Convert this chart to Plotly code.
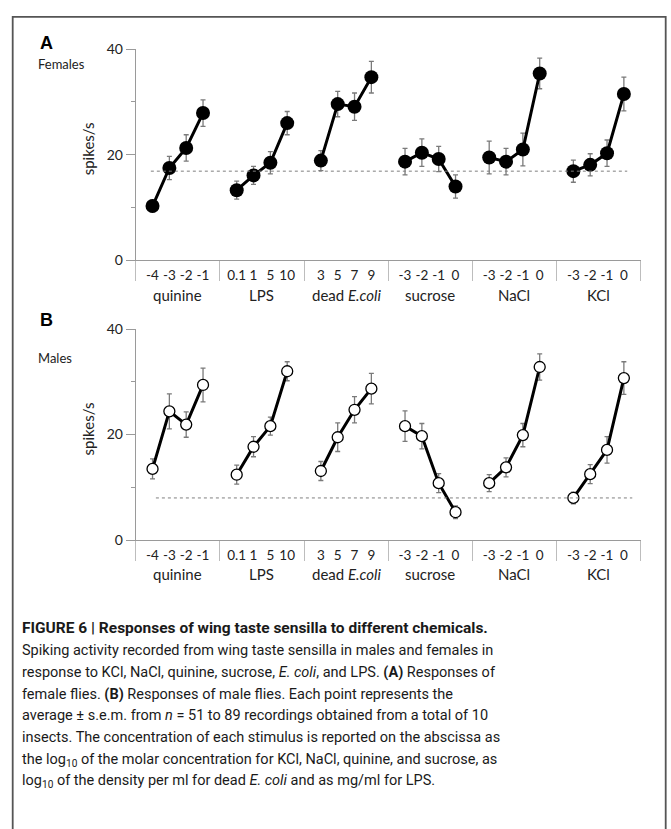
import plotly.graph_objects as go

# ---------------- data ----------------
groups = ["quinine", "LPS", "dead <i>E.coli</i>", "sucrose", "NaCl", "KCl"]
conc_labels = [
    ["-4", "-3", "-2", "-1"],
    ["0.1", "1", "5", "10"],
    ["3", "5", "7", "9"],
    ["-3", "-2", "-1", "0"],
    ["-3", "-2", "-1", "0"],
    ["-3", "-2", "-1", "0"],
]
female_mean = [
    [10.3, 17.5, 21.3, 27.9],
    [13.3, 16.1, 18.5, 26.0],
    [18.9, 29.6, 29.1, 34.7],
    [18.7, 20.4, 19.2, 14.0],
    [19.5, 18.7, 21.0, 35.4],
    [16.9, 18.1, 20.3, 31.5],
]
female_sem = [
    [1.1, 2.2, 2.5, 2.5],
    [1.7, 1.7, 2.1, 2.2],
    [1.9, 2.4, 2.6, 3.0],
    [2.5, 2.6, 2.4, 2.2],
    [3.1, 2.5, 3.1, 2.9],
    [2.1, 2.1, 2.5, 3.2],
]
male_mean = [
    [13.5, 24.4, 21.9, 29.4],
    [12.4, 17.7, 21.6, 32.0],
    [13.1, 19.5, 24.7, 28.7],
    [21.6, 19.7, 10.8, 5.3],
    [10.8, 13.8, 19.9, 32.8],
    [8.0, 12.5, 17.1, 30.7],
]
male_sem = [
    [1.9, 3.3, 2.4, 3.2],
    [1.8, 1.9, 1.7, 1.8],
    [1.8, 2.7, 2.5, 2.9],
    [2.9, 2.4, 1.8, 1.2],
    [1.6, 1.8, 2.2, 2.5],
    [1.1, 1.8, 2.5, 3.1],
]
female_baseline = 16.9
male_baseline = 8.0
female_baseline_x = [0.9, 29.2]
male_baseline_x = [1.2, 29.5]

caption_title = "<b>FIGURE 6 | Responses of wing taste sensilla to different chemicals.</b>"
caption_lines = [
    "Spiking activity recorded from wing taste sensilla in males and females in",
    "response to KCl, NaCl, quinine, sucrose, <i>E. coli</i>, and LPS. <b>(A)</b> Responses of",
    "female flies. <b>(B)</b> Responses of male flies. Each point represents the",
    "average ± s.e.m. from <i>n</i> = 51 to 89 recordings obtained from a total of 10",
    "insects. The concentration of each stimulus is reported on the abscissa as",
    "the log<sub>10</sub> of the molar concentration for KCl, NaCl, quinine, and sucrose, as",
    "log<sub>10</sub> of the density per ml for dead <i>E. coli</i> and as mg/ml for LPS.",
]

# ---------------- geometry helpers ----------------
W, H = 671, 829
def fx(p):
    return p / W
def fy(p):
    return 1 - p / H

SLOTS = 5  # each group spans 5 slots, points at slots 1..4
xpos = [[SLOTS * g + j + 1 for j in range(4)] for g in range(len(groups))]
flat_x = [x for grp in xpos for x in grp]
flat_lab = [l for grp in conc_labels for l in grp]
sep_vals = [SLOTS * g for g in range(len(groups) + 1)]

CHART_FONT = "Lato, Carlito, Calibri, sans-serif"
CAP_FONT = "Roboto, Arial, sans-serif"
AXIS_COL = "#9a9a9a"
SEP_COL = "#bdbdbd"
ERR_COL = "#7a7a7a"

fig = go.Figure()

def add_panel(means, sems, xa, ya, xa_lab, filled, baseline, bx):
    fig.add_trace(go.Scatter(
        x=bx, y=[baseline, baseline], mode="lines",
        line=dict(color="#7f7f7f", width=1, dash="dot"),
        xaxis=xa_lab, yaxis=ya, hoverinfo="skip", showlegend=False))
    for g in range(len(groups)):
        fig.add_trace(go.Scatter(
            x=xpos[g], y=means[g], mode="lines+markers",
            line=dict(color="black", width=3),
            marker=dict(
                size=14 if filled else 11,
                color="black" if filled else "white",
                line=dict(color="black", width=0 if filled else 1.3),
                symbol="circle"),
            error_y=dict(type="data", array=sems[g], visible=True,
                         color=ERR_COL, thickness=1.3, width=2.5),
            xaxis=xa, yaxis=ya, showlegend=False))

add_panel(female_mean, female_sem, "x", "y", "x3", True, female_baseline, female_baseline_x)
add_panel(male_mean, male_sem, "x2", "y2", "x4", False, male_baseline, male_baseline_x)

x_dom = [fx(135.7), fx(640.7)]
yA_dom = [fy(256.7), fy(41)]
yB_dom = [fy(542.3), fy(326.7)]

def sep_axis(anchor):
    return dict(domain=x_dom, range=[0, SLOTS * len(groups)], anchor=anchor,
                showline=True, linecolor=AXIS_COL, linewidth=1,
                tickmode="array", tickvals=sep_vals, showticklabels=False,
                ticks="outside", ticklen=20, tickcolor=SEP_COL, tickwidth=1,
                showgrid=False, zeroline=False, fixedrange=True)

def lab_axis(overlay, anchor):
    return dict(domain=x_dom, range=[0, SLOTS * len(groups)], anchor=anchor,
                overlaying=overlay, side="bottom",
                showline=False, ticks="", tickmode="array",
                tickvals=flat_x, ticktext=flat_lab,
                tickfont=dict(family=CHART_FONT, size=13.5, color="#222"),
                ticklabelstandoff=5,
                showgrid=False, zeroline=False, fixedrange=True)

def y_axis(dom, anchor):
    return dict(domain=dom, range=[0, 40], anchor=anchor,
                showline=True, linecolor=AXIS_COL, linewidth=1,
                tickmode="array", tickvals=[0, 20, 40],
                ticks="outside", ticklen=9, tickcolor=AXIS_COL,
                minor=dict(tickvals=[10, 30], ticks="outside", ticklen=4,
                           tickcolor=AXIS_COL),
                tickfont=dict(family=CHART_FONT, size=14, color="#222"),
                showgrid=False, zeroline=False, fixedrange=True)

annotations = []
for (ybase, xa) in [(256.7, "x"), (542.3, "x2")]:
    for g, name in enumerate(groups):
        annotations.append(dict(
            x=SLOTS * g + 2.5, xref=xa, y=fy(ybase + 35), yref="paper",
            text=name, showarrow=False, xanchor="center", yanchor="middle",
            font=dict(family=CHART_FONT, size=15, color="#222")))

annotations += [
    dict(x=fx(38), y=fy(35), xref="paper", yref="paper", text="<b>A</b>",
         showarrow=False, xanchor="left", yanchor="middle",
         font=dict(family="Liberation Sans, Arial, sans-serif", size=18, color="black")),
    dict(x=fx(35.5), y=fy(56), xref="paper", yref="paper", text="Females",
         showarrow=False, xanchor="left", yanchor="middle",
         font=dict(family=CHART_FONT, size=13, color="#222")),
    dict(x=fx(38), y=fy(318), xref="paper", yref="paper", text="<b>B</b>",
         showarrow=False, xanchor="left", yanchor="middle",
         font=dict(family="Liberation Sans, Arial, sans-serif", size=18, color="black")),
    dict(x=fx(35.5), y=fy(356.7), xref="paper", yref="paper", text="Males",
         showarrow=False, xanchor="left", yanchor="middle",
         font=dict(family=CHART_FONT, size=13, color="#222")),
    dict(x=fx(87.7), y=fy(142.5), xref="paper", yref="paper", text="spikes/s",
         textangle=-90, showarrow=False, xanchor="center", yanchor="middle",
         font=dict(family=CHART_FONT, size=15, color="#222")),
    dict(x=fx(87.7), y=fy(428.5), xref="paper", yref="paper", text="spikes/s",
         textangle=-90, showarrow=False, xanchor="center", yanchor="middle",
         font=dict(family=CHART_FONT, size=15, color="#222")),
]

cap_y = [631.7, 655.0, 677.3, 700.0, 721.7, 744.0, 766.7, 788.3]
cap_sizes = [15.5] + [14.5] * len(caption_lines)
cap_texts = [caption_title] + caption_lines
for t, yy, fs in zip(cap_texts, cap_y, cap_sizes):
    annotations.append(dict(
        x=fx(20), y=fy(yy), xref="paper", yref="paper", text=t,
        showarrow=False, xanchor="left", yanchor="middle",
        font=dict(family=CAP_FONT, size=fs, color="#1a1a1a")))

shapes = [dict(type="rect", xref="paper", yref="paper",
               x0=fx(12.7), x1=fx(665.7), y0=-0.05, y1=fy(8),
               line=dict(color="#555555", width=1.8), fillcolor="rgba(0,0,0,0)")]

fig.update_layout(
    width=W, height=H, margin=dict(l=0, r=0, t=0, b=0),
    paper_bgcolor="white", plot_bgcolor="white",
    xaxis=sep_axis("y"), xaxis2=sep_axis("y2"),
    xaxis3=lab_axis("x", "y"), xaxis4=lab_axis("x2", "y2"),
    yaxis=y_axis(yA_dom, "x"), yaxis2=y_axis(yB_dom, "x2"),
    annotations=annotations, shapes=shapes, showlegend=False,
)

fig.write_html(
    "out.html",
    config={"displayModeBar": False},
    post_script="document.body.style.margin='0';document.body.style.overflow='hidden';",
)
